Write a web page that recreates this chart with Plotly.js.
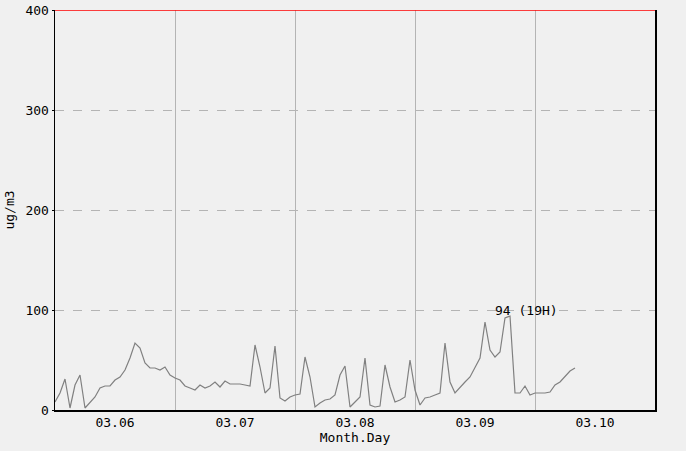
<!DOCTYPE html>
<html><head><meta charset="utf-8">
<script src="https://cdn.plot.ly/plotly-3.0.1.min.js"></script>
<style>html,body{margin:0;padding:0;background:#f0f0f0}</style>
</head><body>
<div id="chart" style="width:686px;height:451px"></div>
<script>
// hourly values starting 03.06 00H
const values = [
 8,17,31,2,25,35,2,7,13,22,24,24,30,33,40,52,67,62,47,42,42,40,43,35,
 32,30,24,22,20,25,22,24,28,23,29,26,26,26,25,24,65,43,17,22,64,12,9,13,
 15,16,53,33,3,7,10,11,15,35,44,3,8,13,52,5,3,4,45,23,8,10,13,50,
 20,5,12,13,15,17,67,28,17,23,28,33,42,52,88,60,53,58,92,94,17,17,24,15,
 17,17,17,18,25,28,34,39,42
];
const hours = values.map((v,i)=>i);
const dayLabels = ['03.06','03.07','03.08','03.09','03.10'];
const dayCenters = [12,36,60,84,108];
const peakHour = 91, peakValue = 94, peakLabel = '94 (19H)';

const font = {family:'DejaVu Sans Mono, monospace', size:13, color:'#000'};
Plotly.newPlot('chart',[{
  x:hours, y:values, type:'scatter', mode:'lines',
  line:{color:'#808080', width:1.2}, hoverinfo:'none'
}],{
  width:686, height:451,
  margin:{l:55, r:31, t:10, b:41},
  paper_bgcolor:'#f0f0f0', plot_bgcolor:'#f0f0f0',
  showlegend:false,
  font:font,
  xaxis:{range:[0,120], tickvals:dayCenters, ticktext:dayLabels,
    showgrid:false, zeroline:false, showline:true, linecolor:'#000', linewidth:1.5,
    mirror:false, ticks:'', ticklen:0,
    minor:{tick0:0, dtick:24, showgrid:true, gridcolor:'#b4b4b4', gridwidth:1},
    title:{text:'Month.Day', font:font, standoff:3}, tickfont:font},
  yaxis:{range:[0,400], tickvals:[0,100,200,300,400], showgrid:true,
    gridcolor:'#b4b4b4', griddash:'dash', gridwidth:1, zeroline:false,
    showline:true, linecolor:'#000', linewidth:1.5, mirror:true,
    ticks:'outside', ticklen:2, tickcolor:'#000',
    title:{text:'ug/m3', font:font, standoff:8}, tickfont:font},
  shapes:[{type:'line', xref:'paper', x0:0, x1:1, yref:'y', y0:400, y1:400,
    layer:'above', line:{color:'#ff0000', width:1.5}}],
  annotations:[{x:peakHour, y:peakValue, text:peakLabel, showarrow:false,
    xanchor:'left', yanchor:'bottom', xshift:-17, yshift:-4, font:font}]
},{staticPlot:true, displayModeBar:false});
</script>
</body></html>
